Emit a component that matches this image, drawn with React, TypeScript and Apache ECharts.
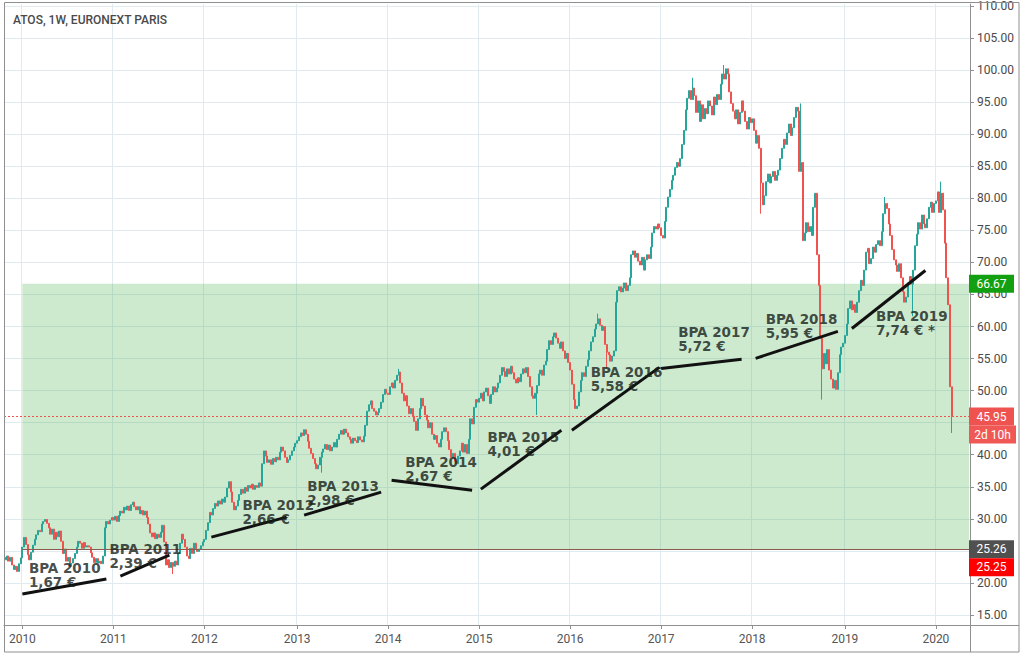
import React, { useEffect, useRef } from 'react';
import * as echarts from 'echarts';

// ---------- data ----------
const CHART_TITLE = 'ATOS, 1W, EURONEXT PARIS';
const FIRST_WEEK = '2009-10-26';
const WEEK_SLOTS = 552;
const FIRST_OPEN = 24.0;

const close2009 = [23.6, 24.2, 23.4, 24.0, 22.8, 22.1, 22.6, 21.8, 23.0, 23.9];
const close2010 = [25.6, 27.1, 26.0, 24.4, 23.6, 24.8, 25.9, 26.8, 27.5, 28.2, 28.0, 29.2, 29.6, 29.9, 29.3, 28.6, 27.6, 28.4, 26.8, 27.9, 27.2, 28.1, 26.5, 24.6, 25.3, 23.4, 24.0, 22.6, 23.1, 23.8, 24.6, 25.6, 26.5, 26.2, 25.4, 26.3, 25.6, 25.8, 25.6, 24.7, 24.0, 23.2, 23.8, 23.1, 23.4, 23.0, 24.2, 28.6, 29.6, 29.2, 29.8, 30.2];
const close2011 = [29.8, 30.4, 29.6, 30.5, 31.2, 30.9, 31.8, 31.4, 32.0, 31.3, 32.2, 32.6, 31.9, 31.4, 31.9, 30.8, 31.3, 30.6, 31.2, 30.2, 29.2, 27.8, 27.2, 27.8, 26.9, 27.6, 27.1, 27.9, 29.0, 26.4, 22.8, 23.6, 22.4, 23.2, 22.6, 23.4, 22.8, 24.6, 26.2, 27.6, 26.8, 25.6, 24.2, 23.8, 25.4, 24.6, 26.2, 25.2, 24.9, 25.3, 25.8, 26.4];
const close2012 = [26.8, 28.2, 29.4, 31.0, 30.6, 31.6, 32.4, 32.0, 32.8, 32.3, 33.1, 32.6, 33.4, 34.8, 35.8, 34.2, 32.6, 31.4, 32.0, 32.9, 33.8, 34.6, 34.0, 34.9, 34.3, 35.2, 34.8, 35.4, 34.6, 35.2, 34.9, 35.6, 35.1, 38.6, 40.6, 39.8, 38.8, 39.2, 38.5, 39.4, 38.9, 39.6, 39.2, 40.4, 41.2, 40.6, 39.6, 38.8, 39.2, 39.9, 40.6, 41.2, 41.8];
const close2013 = [42.2, 42.8, 43.4, 43.0, 43.9, 43.2, 42.1, 41.0, 40.2, 39.4, 38.6, 37.8, 38.4, 39.6, 40.4, 40.9, 41.6, 40.8, 41.5, 40.6, 41.2, 41.9, 41.2, 42.4, 43.2, 43.8, 43.2, 44.0, 43.4, 42.8, 42.4, 41.8, 42.6, 42.2, 41.9, 42.8, 42.3, 42.0, 42.9, 44.6, 46.8, 47.8, 48.4, 47.2, 46.8, 46.2, 46.6, 47.2, 48.2, 49.4, 50.2, 49.6];
const close2014 = [49.4, 50.6, 51.2, 50.4, 51.6, 52.4, 52.9, 51.2, 49.6, 48.4, 49.2, 47.6, 46.4, 47.2, 46.0, 45.2, 43.8, 45.6, 47.2, 48.8, 47.6, 46.2, 45.4, 44.2, 45.0, 43.2, 42.4, 43.0, 41.8, 41.2, 42.4, 43.6, 44.2, 43.6, 42.2, 40.8, 39.6, 40.2, 39.0, 38.6, 39.8, 40.6, 41.8, 40.4, 41.6, 40.2, 42.4, 45.6, 44.8, 47.4, 48.6, 48.2];
const close2015 = [48.8, 49.6, 48.4, 49.8, 50.4, 49.2, 48.0, 49.4, 50.6, 49.8, 50.4, 51.2, 52.4, 53.6, 53.0, 52.2, 53.4, 52.6, 53.8, 52.8, 51.8, 51.2, 52.0, 51.4, 52.6, 53.4, 52.8, 53.6, 52.2, 50.6, 49.2, 48.8, 49.6, 50.8, 52.6, 53.2, 52.4, 54.0, 54.6, 56.4, 57.8, 57.2, 58.4, 59.0, 58.2, 57.4, 56.6, 57.6, 56.2, 55.0, 55.8, 54.4];
const close2016 = [53.2, 51.0, 48.6, 47.2, 47.6, 49.8, 51.6, 52.8, 52.2, 53.8, 54.8, 56.2, 57.6, 58.4, 59.6, 60.4, 61.2, 60.2, 59.4, 60.0, 57.2, 56.0, 55.6, 54.6, 55.4, 56.2, 63.8, 65.6, 66.2, 65.4, 66.0, 66.8, 65.6, 66.4, 67.6, 71.2, 71.8, 70.8, 71.4, 70.2, 69.6, 70.8, 68.8, 70.4, 71.2, 70.6, 72.4, 74.6, 75.6, 75.2, 76.0, 75.4];
const close2017 = [74.2, 73.8, 76.4, 78.6, 80.2, 81.4, 82.8, 83.6, 84.8, 85.6, 85.0, 86.2, 88.4, 90.6, 93.8, 95.6, 96.8, 95.4, 97.2, 96.0, 93.4, 95.2, 92.0, 94.6, 92.4, 94.0, 93.2, 95.2, 94.4, 93.0, 95.8, 94.6, 96.2, 95.4, 97.8, 99.4, 98.6, 100.2, 99.4, 96.6, 94.8, 93.6, 92.4, 93.8, 91.6, 93.4, 95.2, 93.6, 92.0, 90.8, 92.6, 91.8];
const close2018 = [92.4, 90.6, 88.6, 89.8, 87.8, 82.4, 79.0, 80.4, 82.6, 83.8, 82.4, 83.4, 84.2, 82.8, 83.6, 84.4, 86.2, 87.8, 89.2, 88.4, 90.2, 91.6, 89.8, 91.0, 92.6, 94.2, 93.6, 84.2, 85.6, 73.4, 74.6, 76.2, 74.8, 75.6, 74.2, 78.6, 80.8, 71.2, 66.4, 58.2, 53.4, 55.8, 54.2, 56.4, 53.2, 51.8, 50.4, 51.6, 50.2, 52.8, 55.6, 56.8, 57.4];
const close2019 = [58.6, 60.4, 62.8, 64.0, 62.6, 63.4, 62.2, 63.8, 65.6, 67.2, 66.4, 68.8, 71.6, 72.2, 69.8, 70.6, 72.4, 71.6, 72.8, 73.4, 72.6, 74.8, 77.6, 79.2, 78.4, 76.0, 74.2, 72.0, 70.4, 69.6, 68.6, 69.8, 67.6, 65.4, 63.8, 64.6, 66.8, 67.8, 66.6, 68.8, 72.6, 74.4, 76.2, 75.2, 77.4, 76.0, 75.4, 76.8, 78.6, 79.4, 77.8, 79.2];
const close2020 = [79.6, 81.0, 77.8, 80.8, 78.2, 73.0, 67.6, 63.4, 50.6, 45.95];

// notable wick extremes
const wickHighs: [string, number][] = [
  ['2014-02-17', 53.4], ['2016-04-25', 62.0], ['2017-05-08', 98.8], ['2017-09-11', 100.8],
  ['2018-07-16', 94.8], ['2019-06-17', 80.2], ['2020-01-27', 82.6],
];
const wickLows: [string, number][] = [
  ['2011-08-29', 21.4], ['2013-04-15', 37.2], ['2015-08-24', 46.2], ['2016-05-30', 53.6],
  ['2018-02-05', 77.6], ['2018-10-08', 48.6], ['2019-10-07', 61.6], ['2020-03-09', 43.4],
];

const PRICE_TICKS = [15, 20, 25, 30, 35, 40, 45, 50, 55, 60, 65, 70, 75, 80, 85, 90, 95, 100, 105, 110];
// labels hidden behind the price tags in the reference (25.00 and 45.00) are left out
const PRICE_LABELS = [15, 20, 30, 35, 40, 50, 55, 60, 65, 70, 75, 80, 85, 90, 95, 100, 105, 110];
const PRICE_MIN = 13.44;
const PRICE_MAX = 110.31;

const RANGE_START = '2010-01-04';
const RANGE_TOP = 66.67;
const RANGE_BOTTOM = 25.26;
const LAST_PRICE = 45.95;
const COUNTDOWN = '2d 10h';
const ALT_LEVEL = 25.25;

const BPA_YEARS = ['2010', '2011', '2012', '2013', '2014', '2015', '2016', '2017', '2018', '2019'];
const BPA_EPS = ['1,67 €', '2,39 €', '2,66 €', '2,98 €', '2,67 €', '4,01 €', '5,58 €', '5,72 €', '5,95 €', '7,74 € *'];
const BPA_LABEL_DATES = ['2010-01-31', '2010-12-20', '2012-06-05', '2013-02-20', '2014-03-15', '2015-02-10', '2016-03-28', '2017-03-12', '2018-02-26', '2019-05-12'];
const BPA_LABEL_VALUES = [23.3, 26.37, 33.22, 36.18, 39.92, 43.82, 53.94, 60.17, 62.2, 62.66];
const BPA_FROM_DATES = ['2010-01-03', '2011-01-30', '2012-02-01', '2013-02-04', '2014-01-22', '2015-01-13', '2016-01-12', '2017-01-01', '2018-01-14', '2019-02-01'];
const BPA_FROM_VALUES = [18.27, 21.07, 27.15, 30.58, 36.03, 34.63, 43.82, 53.47, 55.03, 59.7];
const BPA_TO_DATES = ['2010-12-05', '2011-08-13', '2012-11-28', '2013-12-08', '2014-12-07', '2015-11-28', '2016-12-25', '2017-11-23', '2018-12-07', '2019-11-24'];
const BPA_TO_VALUES = [20.61, 24.35, 30.26, 34.16, 34.47, 43.82, 53.63, 54.88, 59.24, 68.74];

// ---------- helpers ----------
const DAY = 86400000;
const parseDay = (d: string) => {
  const [y, m, dd] = d.split('-').map(Number);
  return Date.UTC(y, m - 1, dd);
};
const startMs = parseDay(FIRST_WEEK);
const weekIndex = (d: string) => Math.round((parseDay(d) - startMs) / (7 * DAY));
const weeks = Array.from({ length: WEEK_SLOTS }, (_, i) => new Date(startMs + i * 7 * DAY).toISOString().slice(0, 10));
const yearStart = weeks.map((w, i) => i > 0 && w.slice(0, 4) !== weeks[i - 1].slice(0, 4));

const closes = [
  ...close2009, ...close2010, ...close2011, ...close2012, ...close2013, ...close2014,
  ...close2015, ...close2016, ...close2017, ...close2018, ...close2019, ...close2020,
];
const highMap = new Map(wickHighs.map(([d, v]) => [weekIndex(d), v]));
const lowMap = new Map(wickLows.map(([d, v]) => [weekIndex(d), v]));
const candles = closes.map((c, i) => {
  const o = i === 0 ? FIRST_OPEN : closes[i - 1];
  let lo = Math.min(o, c);
  let hi = Math.max(o, c);
  if (highMap.has(i)) hi = Math.max(hi, highMap.get(i) as number);
  if (lowMap.has(i)) lo = Math.min(lo, lowMap.get(i) as number);
  return [o, c, lo, hi];
});

const UP = '#26a69a';
const DOWN = '#ef5350';
const GRID_COLOR = '#e0ebf1';
const AXIS_COLOR = '#8f8f8f';
const LABEL_COLOR = '#4a4a4a';

export default function App() {
  const ref = useRef<HTMLDivElement>(null);

  useEffect(() => {
    if (!ref.current) return;
    const chart = echarts.init(ref.current, undefined, { renderer: 'svg' });
    const rangeStartIdx = weekIndex(RANGE_START);
    const lastSlot = WEEK_SLOTS - 1;

    const option: any = {
      animation: false,
      backgroundColor: '#ffffff',
      title: {
        text: CHART_TITLE,
        left: 13,
        top: 14,
        padding: 0,
        textStyle: { fontFamily: 'Roboto', fontWeight: 500, fontSize: 12, color: '#4a4a4a' },
      },
      grid: { left: 4, right: 54, top: 3, bottom: 32 },
      xAxis: {
        type: 'category',
        data: weeks,
        boundaryGap: true,
        axisLine: { show: true, lineStyle: { color: AXIS_COLOR } },
        axisTick: { show: true, interval: (i: number) => yearStart[i], alignWithLabel: true, length: 4, lineStyle: { color: AXIS_COLOR } },
        axisLabel: {
          interval: (i: number) => yearStart[i],
          formatter: (v: string) => v.slice(0, 4),
          color: '#555555',
          fontFamily: 'Roboto',
          fontSize: 12,
          margin: 8,
        },
        splitLine: { show: true, interval: (i: number) => yearStart[i], lineStyle: { color: GRID_COLOR, width: 1 } },
      },
      yAxis: {
        type: 'value',
        position: 'right',
        min: PRICE_MIN,
        max: PRICE_MAX,
        axisLine: { show: true, lineStyle: { color: AXIS_COLOR } },
        axisTick: { show: true, customValues: PRICE_TICKS, length: 4, lineStyle: { color: AXIS_COLOR } },
        axisLabel: {
          customValues: PRICE_LABELS,
          formatter: (v: number) => v.toFixed(2),
          color: LABEL_COLOR,
          fontFamily: 'Roboto',
          fontSize: 12,
          margin: 7,
        },
        splitLine: { show: true, lineStyle: { color: GRID_COLOR, width: 1 } },
      },
      series: [
        {
          type: 'candlestick',
          data: candles,
          barWidth: 1.5,
          z: 2,
          itemStyle: { color: UP, color0: DOWN, borderColor: UP, borderColor0: DOWN, borderWidth: 1 },
          markArea: {
            silent: true,
            itemStyle: { color: 'rgba(76,175,80,0.28)' },
            data: [[{ xAxis: rangeStartIdx, yAxis: RANGE_TOP }, { xAxis: lastSlot, yAxis: RANGE_BOTTOM }]],
          },
          markLine: {
            silent: true,
            symbol: ['none', 'none'],
            label: { show: false },
            data: [
              { yAxis: LAST_PRICE, lineStyle: { color: DOWN, type: [2, 2], width: 1 } },
              [
                { xAxis: rangeStartIdx, yAxis: RANGE_BOTTOM, lineStyle: { color: '#8a5a4e', type: 'solid', width: 1 } },
                { xAxis: lastSlot, yAxis: RANGE_BOTTOM },
              ],
            ],
          },
        },
        {
          type: 'lines',
          coordinateSystem: 'cartesian2d',
          silent: true,
          z: 5,
          lineStyle: { color: '#111111', width: 3, opacity: 1 },
          data: BPA_YEARS.map((_, i) => ({
            coords: [
              [weekIndex(BPA_FROM_DATES[i]), BPA_FROM_VALUES[i]],
              [weekIndex(BPA_TO_DATES[i]), BPA_TO_VALUES[i]],
            ],
          })),
        },
        {
          type: 'scatter',
          silent: true,
          z: 6,
          symbolSize: 1,
          itemStyle: { color: 'rgba(0,0,0,0)' },
          data: BPA_YEARS.map((_, i) => [weekIndex(BPA_LABEL_DATES[i]), BPA_LABEL_VALUES[i]]),
          label: {
            show: true,
            position: [0, 0],
            align: 'left',
            verticalAlign: 'top',
            formatter: (p: any) => `BPA ${BPA_YEARS[p.dataIndex]}\n${BPA_EPS[p.dataIndex]}`,
            fontFamily: 'DejaVu Sans',
            fontWeight: 'bold',
            fontSize: 13.5,
            lineHeight: 14,
            color: '#15201a',
          },
        },
      ],
    };
    chart.setOption(option);

    const yOf = (v: number) => chart.convertToPixel({ yAxisIndex: 0 }, v) as number;
    const tagX = 969;
    const tag = (cy: number, text: string, fill: string, width = 45) => ({
      type: 'group',
      silent: true,
      children: [
        { type: 'rect', z: 200, zlevel: 1, shape: { x: tagX, y: cy - 9, width, height: 18 }, style: { fill } },
        {
          type: 'text',
          z: 201,
          zlevel: 1,
          x: tagX + width / 2,
          y: cy,
          style: { text, fill: '#ffffff', font: '12px Roboto', textAlign: 'center', textVerticalAlign: 'middle' },
        },
      ],
    });
    const yLast = yOf(LAST_PRICE);
    const yBottom = yOf(RANGE_BOTTOM);
    chart.setOption({
      graphic: [
        tag(yOf(RANGE_TOP), RANGE_TOP.toFixed(2), '#12a012'),
        tag(yLast, LAST_PRICE.toFixed(2), '#ef5350'),
        tag(yLast + 18, COUNTDOWN, '#f05856', 47),
        tag(yBottom, RANGE_BOTTOM.toFixed(2), '#505050'),
        tag(yBottom + 18, ALT_LEVEL.toFixed(2), '#ff0000'),
        {
          type: 'rect',
          silent: true,
          z: 60,
          zlevel: 1,
          shape: { x: 4.5, y: 2.5, width: 1014.5, height: 649.5 },
          style: { fill: 'none', stroke: AXIS_COLOR, lineWidth: 1 },
        },
        {
          type: 'line',
          silent: true,
          z: 60,
          zlevel: 1,
          shape: { x1: 970.5, y1: 625, x2: 970.5, y2: 652 },
          style: { stroke: AXIS_COLOR, lineWidth: 1 },
        },
        {
          type: 'line',
          silent: true,
          z: 60,
          zlevel: 1,
          shape: { x1: 970, y1: 625.5, x2: 1019, y2: 625.5 },
          style: { stroke: AXIS_COLOR, lineWidth: 1 },
        },
      ],
    });

    return () => chart.dispose();
  }, []);

  return (
    <div
      ref={ref}
      style={{ position: 'fixed', left: 0, top: 0, width: 1024, height: 657, background: '#ffffff' }}
    />
  );
}
